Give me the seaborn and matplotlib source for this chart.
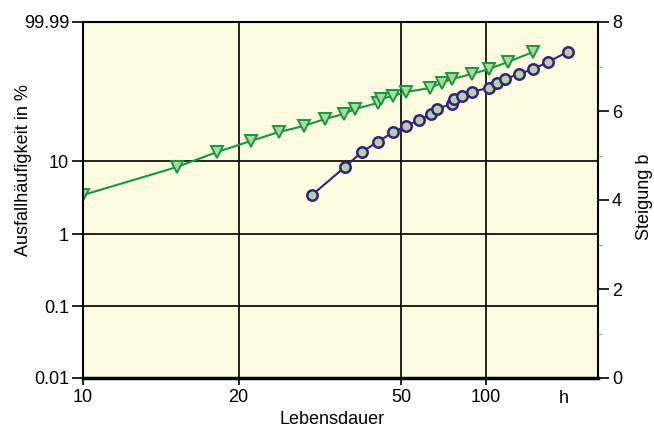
import numpy as np
import matplotlib
matplotlib.use("Agg")
import matplotlib.pyplot as plt
import seaborn as sns

# Lebensdauer in h, Ausfallhäufigkeit in %
life_green = [10.0, 15.2, 18.16, 21.44, 25.09, 28.9, 32.52, 36.21, 38.52, 43.85,
              44.6, 47.72, 51.96, 63.3, 69.85, 75.8, 89.4, 102.7, 120.1, 147.5]
fail_green = [3.50, 8.38, 13.2, 18.3, 23.6, 27.9, 33.6, 38.1, 43.1, 49.5,
              54.0, 57.5, 62.2, 66.9, 72.7, 77.2, 82.3, 86.9, 92.2, 97.0]

# Lebensdauer in h, Steigung b
life_purple = [30.23, 36.41, 40.07, 43.85, 47.72, 51.96, 57.8, 63.8, 67.05, 75.8,
               77.1, 82.3, 89.4, 102.7, 109.7, 117.2, 131.4, 147.5, 166.8, 196.6]
slope_purple = [4.11, 4.74, 5.08, 5.31, 5.52, 5.66, 5.80, 5.93, 6.05, 6.16,
                6.27, 6.34, 6.43, 6.52, 6.63, 6.72, 6.83, 6.94, 7.10, 7.33]

x_ticks = [10, 20, 50, 100]
x_ticklabels = ["10", "20", "50", "100"]
y_ticks = [0.01, 0.1, 1, 10, 99.99]
y_ticklabels = ["0.01", "0.1", "1", "10", "99.99"]
b_ticks = [0, 2, 4, 6, 8]

# Zeitachse der Vorlage: logarithmisch, aber abschnittsweise gestaucht
log_knots = np.log10([1, 10, 20, 50, 100, 1000])
pos_knots = np.array([-517.2, 0.0, 155.7, 318.3, 402.7, 683.1])


def t_fwd(t):
    t = np.asarray(t, dtype=float)
    with np.errstate(divide="ignore", invalid="ignore"):
        lt = np.log10(np.where(t > 0, t, 1e-9))
    return np.interp(lt, log_knots, pos_knots, left=-1e4, right=1e4)


def t_inv(u):
    return 10 ** np.interp(np.asarray(u, dtype=float), pos_knots, log_knots)


# Weibull-Papier
def w_fwd(f):
    f = np.clip(np.asarray(f, dtype=float), 1e-6, 100 - 1e-6) / 100
    return np.log(-np.log(1 - f))


def w_inv(y):
    return 100 * (1 - np.exp(-np.exp(np.asarray(y, dtype=float))))


sns.set_style("ticks")
plt.rcParams["font.family"] = ["Liberation Sans", "DejaVu Sans"]
plt.rcParams["font.size"] = 13
plt.rcParams["text.color"] = "black"
plt.rcParams["axes.labelcolor"] = "black"
plt.rcParams["xtick.color"] = "black"
plt.rcParams["ytick.color"] = "black"
plt.rcParams["axes.edgecolor"] = "black"

fig = plt.figure(figsize=(6.54, 4.28), dpi=100)
ax = fig.add_axes([83 / 654, 50 / 428, 515 / 654, 356 / 428])
ax.set_facecolor("#fdfce0")
ax.set_xscale("function", functions=(t_fwd, t_inv))
ax.set_yscale("function", functions=(w_fwd, w_inv))

green = "#15993c"
purple = "#3b1e82"
pale = "#aed6a0"

sns.lineplot(x=life_green, y=fail_green, ax=ax, estimator=None, sort=False,
             color=green, linewidth=1.5, marker="v", markersize=8,
             markerfacecolor=pale, markeredgecolor=green, markeredgewidth=1.4)

ax.set_xlim(10, 252)
ax.set_ylim(0.01, 99.99)
ax.set_xticks(x_ticks)
ax.set_xticklabels(x_ticklabels)
ax.set_yticks(y_ticks)
ax.set_yticklabels(y_ticklabels)
ax.minorticks_off()
ax.grid(True, color="black", linewidth=1.2)
ax.set_axisbelow(True)
ax.tick_params(axis="y", length=8, width=1.2, pad=2, labelsize=13)
ax.tick_params(axis="x", length=5, width=1.2, pad=3, labelsize=13)
for s in ["left", "right", "top"]:
    ax.spines[s].set_linewidth(1.5)
ax.spines["bottom"].set_linewidth(2.5)

ax.set_xlabel("Lebensdauer", fontsize=13)
ax.xaxis.set_label_coords(0.4835, -0.092)
ax.set_ylabel("Ausfallhäufigkeit in %", fontsize=13)
ax.yaxis.set_label_coords(-0.099, 0.584)
ax.text(190, -0.033, "h", transform=ax.get_xaxis_transform(),
        ha="center", va="top", fontsize=13)

ax2 = ax.twinx()
sns.lineplot(x=life_purple, y=slope_purple, ax=ax2, estimator=None, sort=False,
             color=purple, linewidth=1.5, marker="o", markersize=7.5,
             markerfacecolor=pale, markeredgecolor=purple, markeredgewidth=1.8)
ax2.set_ylim(0, 8)
ax2.set_yticks(b_ticks)
ax2.set_yticks([1, 3, 5, 7], minor=True)
ax2.tick_params(axis="y", which="major", length=8, width=1.2, pad=2, labelsize=13)
ax2.tick_params(axis="y", which="minor", length=3, width=0.8, color="#999999")
for s in ax2.spines.values():
    s.set_visible(False)
ax2.set_ylabel("Steigung b", fontsize=13)
ax2.yaxis.set_label_coords(1.074, 0.508)

fig.savefig("out.png", dpi=100)
